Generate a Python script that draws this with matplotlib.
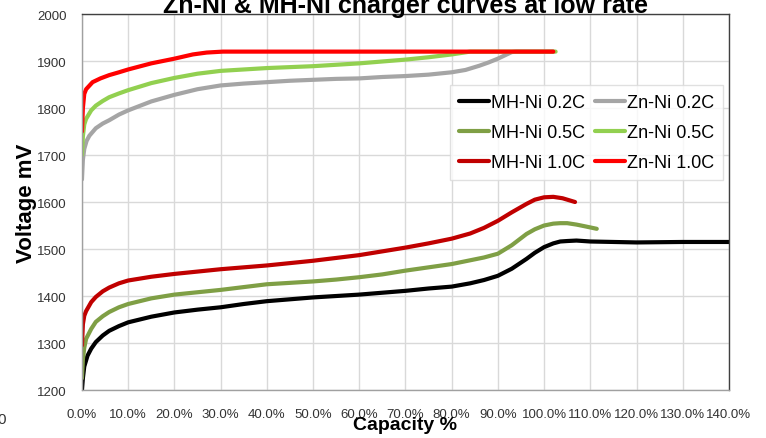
import matplotlib
matplotlib.use('Agg')
from matplotlib import pyplot as plt
from matplotlib.ticker import FuncFormatter, MultipleLocator

plt.rcParams['font.family'] = ['Liberation Sans', 'DejaVu Sans']

# capacity in %, voltage in mV
mh02_x = [0, 0.2, 0.5, 1.2, 2, 3, 4.5, 5.9, 8, 10, 15, 20, 25, 30, 35, 40, 45, 50, 55, 60,
          65, 70, 75, 80, 84, 87, 90, 93, 96.2, 98, 100, 102, 103.5, 105, 107, 110, 115, 120, 130, 140]
mh02_y = [1200, 1225, 1250, 1273, 1288, 1302, 1316, 1326, 1336, 1344, 1356, 1365, 1371, 1376, 1383, 1389,
          1393, 1397, 1400, 1403, 1407, 1411, 1416, 1420, 1427, 1434, 1443, 1458, 1479, 1492, 1504, 1512,
          1516, 1517, 1518, 1516, 1515, 1514, 1515, 1515]

zn02_x = [0, 0.2, 0.5, 1, 1.6, 3, 4.5, 5.9, 8, 10, 15, 20, 25, 30, 35, 40, 45, 50, 55, 60,
          65, 70, 75, 80, 83, 86, 88, 90, 91.5, 93, 94, 102]
zn02_y = [1648, 1690, 1713, 1730, 1741, 1757, 1767, 1774, 1786, 1795, 1814, 1828, 1840, 1848, 1852, 1855,
          1858, 1860, 1862, 1863, 1866, 1868, 1871, 1876, 1881, 1890, 1897, 1905, 1912, 1919, 1920, 1920]

mh05_x = [0, 0.2, 0.5, 0.9, 2, 3, 4.5, 5.9, 8, 10, 15, 20, 25, 30, 35, 40, 45, 50, 55, 60,
          65, 70, 75, 80, 84, 87, 90, 93, 96.2, 98, 100, 102, 103.5, 105, 107, 109, 111.4]
mh05_y = [1225, 1265, 1290, 1309, 1330, 1345, 1357, 1366, 1376, 1383, 1395, 1403, 1408, 1413, 1419, 1425,
          1428, 1431, 1435, 1440, 1446, 1454, 1461, 1468, 1476, 1482, 1490, 1508, 1532, 1542, 1550, 1554,
          1555, 1555, 1552, 1548, 1543]

zn05_x = [0, 0.2, 0.5, 0.9, 2, 3, 4.5, 5.9, 8, 10, 15, 20, 25, 30, 35, 40, 45, 50, 55, 60,
          65, 70, 75, 80, 82, 84, 102.5]
zn05_y = [1700, 1740, 1765, 1777, 1795, 1805, 1815, 1823, 1831, 1838, 1853, 1864, 1873, 1879, 1882, 1885,
          1887, 1889, 1892, 1895, 1899, 1903, 1908, 1914, 1917, 1920, 1920]

mh10_x = [0, 0.2, 0.5, 0.9, 2, 3, 4.5, 5.9, 8, 10, 15, 20, 25, 30, 35, 40, 45, 50, 55, 60,
          65, 70, 75, 80, 84, 87, 90, 93, 96.2, 98, 100, 102, 104, 106.7]
mh10_y = [1295, 1340, 1358, 1368, 1387, 1398, 1410, 1418, 1427, 1433, 1441, 1447, 1452, 1457, 1461, 1465,
          1470, 1475, 1481, 1487, 1495, 1503, 1512, 1522, 1533, 1545, 1560, 1578, 1596, 1605, 1610, 1611,
          1608, 1600]

zn10_x = [0, 0.2, 0.5, 0.9, 2.3, 4, 5.9, 8, 10, 15, 20, 24, 27, 30.5, 102]
zn10_y = [1750, 1800, 1830, 1840, 1855, 1863, 1870, 1876, 1882, 1895, 1905, 1914, 1918, 1920, 1920]

series = [
    ('MH-Ni 0.2C', mh02_x, mh02_y, '#000000'),
    ('Zn-Ni 0.2C', zn02_x, zn02_y, '#A5A5A5'),
    ('MH-Ni 0.5C', mh05_x, mh05_y, '#7F9F45'),
    ('Zn-Ni 0.5C', zn05_x, zn05_y, '#92D050'),
    ('MH-Ni 1.0C', mh10_x, mh10_y, '#C00000'),
    ('Zn-Ni 1.0C', zn10_x, zn10_y, '#FF0000'),
]

fig = plt.figure(figsize=(7.66, 4.39), dpi=100)
ax = fig.add_axes([0.1070, 0.1093, 0.8446, 0.8565])

lines = {}
for name, xs, ys, col in series:
    ln, = ax.plot(xs, ys, color=col, linewidth=3.0, solid_capstyle='round', label=name)
    lines[name] = ln

ax.set_xlim(0, 140)
ax.set_ylim(1200, 2000)
ax.xaxis.set_major_locator(MultipleLocator(10))
ax.yaxis.set_major_locator(MultipleLocator(100))
ax.xaxis.set_major_formatter(FuncFormatter(lambda v, p: '%.1f%%' % v))
ax.grid(True, color='#D9D9D9', linewidth=1)
ax.set_axisbelow(True)
ax.tick_params(length=0, labelsize=9.5, colors='#333333')
ax.tick_params(axis='y', pad=11)
ax.tick_params(axis='x', pad=13)

for s in ['left', 'bottom']:
    ax.spines[s].set_color('#A0A0A0')
for s in ['top', 'right']:
    ax.spines[s].set_color('#404040')
for s in ax.spines.values():
    s.set_linewidth(1.0)

ax.set_ylabel('Voltage mV', fontsize=16, fontweight='bold', labelpad=0)
ax.set_xlabel('Capacity %', fontsize=14, fontweight='bold', labelpad=-3)

fig.text(0.529, 0.970, 'Zn-Ni & MH-Ni charger curves at low rate', fontsize=18,
         fontweight='bold', ha='center', va='baseline')
fig.text(-0.004, 1 - 420 / 439, '0', fontsize=11, ha='left', va='center', color='#333333')

order = ['MH-Ni 0.2C', 'MH-Ni 0.5C', 'MH-Ni 1.0C', 'Zn-Ni 0.2C', 'Zn-Ni 0.5C', 'Zn-Ni 1.0C']
leg = ax.legend([lines[k] for k in order], order, ncol=2, loc='upper left',
                bbox_to_anchor=(450 / 766, 1 - 86 / 439), bbox_transform=fig.transFigure,
                fontsize=13, frameon=True, fancybox=False, edgecolor='#D9D9D9',
                handlelength=1.65, handletextpad=0.1, columnspacing=0.6,
                labelspacing=0.72, borderpad=0.5, borderaxespad=0)
leg.get_frame().set_linewidth(1.0)

fig.savefig('out.png', dpi=100)
